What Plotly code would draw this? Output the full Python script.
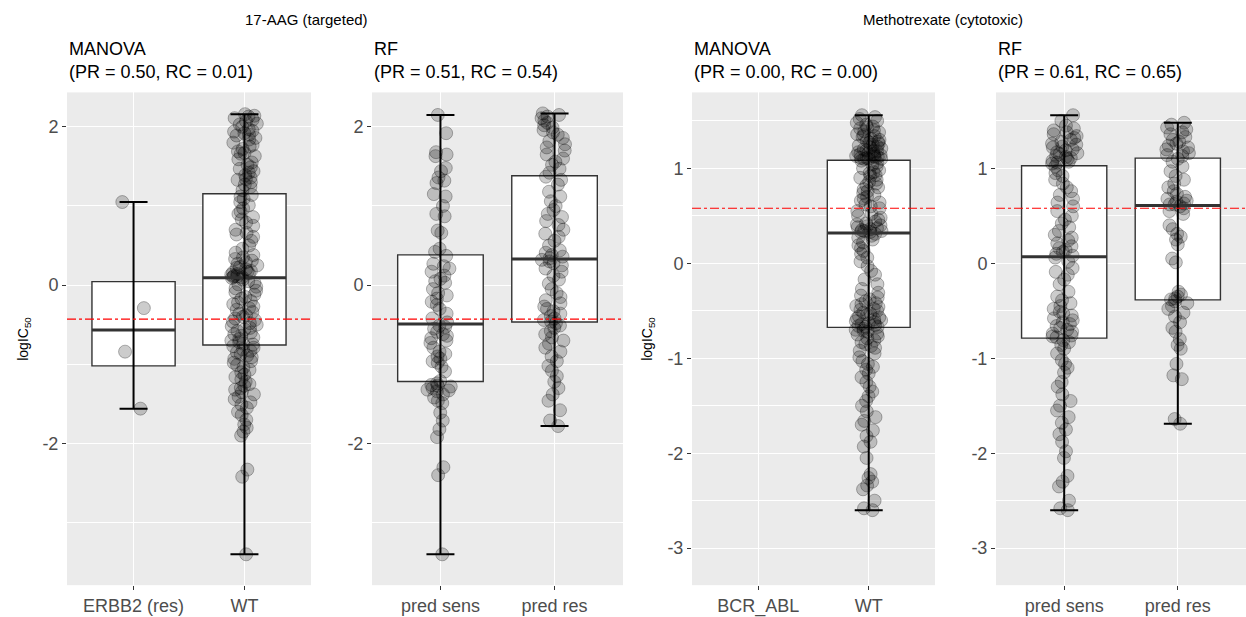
import numpy as np
import plotly.graph_objects as go

# ---------------- data ----------------
drug_titles = ["17-AAG (targeted)", "Methotrexate (cytotoxic)"]
panel_titles = ["MANOVA<br>(PR = 0.50, RC = 0.01)", "RF<br>(PR = 0.51, RC = 0.54)",
                "MANOVA<br>(PR = 0.00, RC = 0.00)", "RF<br>(PR = 0.61, RC = 0.65)"]
categories_aag_manova = ["ERBB2 (res)", "WT"]
categories_aag_rf = ["pred sens", "pred res"]
categories_mtx_manova = ["BCR_ABL", "WT"]
categories_mtx_rf = ["pred sens", "pred res"]
y_title = "logIC<sub>50</sub>"
ticks_aag = [-2, 0, 2]
ticks_mtx = [-3, -2, -1, 0, 1]

aag_manova_erbb2 = [1.05, -0.29, -0.84, -1.56]
aag_manova_wt = [
    2.16, 2.14, 2.13, 2.11, 2.09, 2.07, 2.04, 2.03, 2.00, 1.97, 1.95, 1.94, 1.92, 1.90, 1.89, 1.86,
    1.84, 1.80, 1.77, 1.75, 1.72, 1.69, 1.67, 1.66, 1.63, 1.59, 1.55, 1.52, 1.49, 1.47, 1.44, 1.42,
    1.39, 1.36, 1.34, 1.33, 1.30, 1.27, 1.24, 1.20,
    1.14, 1.12, 1.09, 1.05, 1.01, 0.97, 0.93, 0.90, 0.86, 0.83, 0.79, 0.75, 0.70, 0.66, 0.64, 0.61,
    0.56, 0.50, 0.46, 0.41, 0.38, 0.35, 0.33, 0.31, 0.29, 0.27, 0.25, 0.23, 0.22, 0.20, 0.18, 0.17,
    0.16, 0.15, 0.14, 0.13, 0.12, 0.11, 0.105, 0.10,
    0.09, 0.07, 0.05, 0.03, 0.01, -0.02, -0.04, -0.07, -0.09, -0.12, -0.15, -0.17, -0.20, -0.22,
    -0.24, -0.27, -0.29, -0.31, -0.34, -0.36, -0.38, -0.40, -0.42, -0.44, -0.46, -0.48, -0.50, -0.52,
    -0.54, -0.56, -0.58, -0.60, -0.62, -0.64, -0.66, -0.68, -0.70, -0.72, -0.74, -0.75,
    -0.77, -0.79, -0.81, -0.83, -0.85, -0.87, -0.89, -0.91, -0.93, -0.96, -0.98, -1.01, -1.04, -1.07,
    -1.10, -1.13, -1.16, -1.19, -1.22, -1.25, -1.27, -1.30, -1.32, -1.35, -1.38, -1.41, -1.44, -1.48,
    -1.51, -1.55, -1.60, -1.64, -1.70, -1.76, -1.80, -1.85, -1.90, -2.33, -2.42, -3.40]
aag_rf_sens = [
    2.15, 1.92, 1.68, 1.65, 1.63, 1.48, 1.44, 1.36, 1.32, 1.29, 1.15, 1.12, 1.00, 0.90, 0.87, 0.69,
    0.66, 0.46, 0.42,
    0.37, 0.27, 0.24, 0.21, 0.17, 0.12, 0.08, 0.05, 0.03, -0.05, -0.10, -0.13, -0.17, -0.21, -0.25,
    -0.30, -0.36, -0.42, -0.47,
    -0.51, -0.53, -0.55, -0.59, -0.62, -0.64, -0.67, -0.70, -0.73, -0.79, -0.84, -0.87, -0.90, -0.93,
    -0.96, -0.98, -1.03, -1.09, -1.21,
    -1.24, -1.26, -1.27, -1.28, -1.30, -1.32, -1.33, -1.34, -1.38, -1.42, -1.46, -1.49, -1.61, -1.71,
    -1.82, -1.92, -2.30, -2.40, -3.40]
aag_rf_res = [
    2.17, 2.15, 2.13, 2.11, 2.08, 2.05, 2.02, 1.99, 1.96, 1.93, 1.90, 1.86, 1.82, 1.78, 1.74, 1.70,
    1.65, 1.60, 1.56, 1.52, 1.47, 1.42,
    1.37, 1.33, 1.27, 1.18, 1.12, 1.06, 1.00, 0.95, 0.90, 0.86, 0.81, 0.76, 0.70, 0.65, 0.61, 0.56,
    0.50, 0.44, 0.41, 0.38, 0.36, 0.34,
    0.32, 0.30, 0.28, 0.25, 0.21, 0.17, 0.12, 0.07, 0.02, -0.05, -0.10, -0.15, -0.19, -0.23, -0.27,
    -0.30, -0.33, -0.36, -0.39, -0.42, -0.44, -0.46,
    -0.48, -0.51, -0.54, -0.58, -0.62, -0.66, -0.70, -0.74, -0.79, -0.84, -0.90, -0.96, -1.02, -1.08,
    -1.15, -1.22, -1.30, -1.38, -1.46, -1.58, -1.71, -1.78]

mtx_manova_bcr_abl = []
mtx_manova_wt = [
    1.56, 1.54, 1.52, 1.50, 1.48, 1.46, 1.44, 1.43, 1.42, 1.40, 1.39, 1.38, 1.36, 1.35, 1.34, 1.33,
    1.31, 1.30, 1.29, 1.28, 1.27, 1.26, 1.25, 1.24, 1.23, 1.22, 1.21, 1.20, 1.19, 1.18, 1.18, 1.17,
    1.16, 1.15, 1.15, 1.14, 1.13, 1.13, 1.12, 1.12, 1.11, 1.11, 1.10, 1.10, 1.10,
    1.08, 1.06, 1.04, 1.02, 1.00, 0.98, 0.96, 0.95, 0.93, 0.92, 0.90, 0.88, 0.86, 0.84, 0.82, 0.80,
    0.78, 0.76, 0.74, 0.72, 0.70, 0.68, 0.66, 0.64, 0.62, 0.60, 0.58, 0.55, 0.52, 0.50, 0.48, 0.46,
    0.44, 0.42, 0.41, 0.40, 0.39, 0.38, 0.37, 0.36, 0.35, 0.34, 0.34, 0.33, 0.33,
    0.31, 0.29, 0.27, 0.25, 0.22, 0.19, 0.16, 0.13, 0.10, 0.06, 0.02, -0.03, -0.08, -0.12, -0.17,
    -0.22, -0.27, -0.31, -0.34, -0.36, -0.38, -0.40, -0.42, -0.43, -0.45, -0.46, -0.48, -0.49, -0.50,
    -0.52, -0.53, -0.54, -0.56, -0.57, -0.58, -0.59, -0.60, -0.61, -0.62, -0.63, -0.64, -0.65, -0.66,
    -0.67, -0.67,
    -0.69, -0.70, -0.71, -0.72, -0.74, -0.75, -0.77, -0.79, -0.81, -0.83, -0.85, -0.87, -0.89, -0.92,
    -0.95, -0.99, -1.03, -1.06, -1.09, -1.12, -1.16, -1.20, -1.25, -1.30, -1.35, -1.40, -1.45, -1.50,
    -1.56, -1.62, -1.66, -1.70, -1.76, -1.82, -1.88, -1.93, -2.05, -2.22, -2.26, -2.30, -2.34, -2.38,
    -2.50, -2.58, -2.60]
mtx_rf_sens = [
    1.56, 1.50, 1.45, 1.42, 1.40, 1.38, 1.36, 1.34, 1.32, 1.30, 1.28, 1.26, 1.25, 1.23, 1.22, 1.20,
    1.19, 1.17, 1.16, 1.15, 1.13, 1.12, 1.11, 1.10, 1.08, 1.07, 1.06, 1.05,
    1.02, 0.98, 0.95, 0.92, 0.88, 0.84, 0.80, 0.76, 0.72, 0.68, 0.64, 0.60, 0.55, 0.50, 0.46, 0.42,
    0.38, 0.34, 0.30, 0.27, 0.24, 0.21, 0.18, 0.16, 0.14, 0.12, 0.10, 0.08,
    0.06, 0.02, -0.05, -0.09, -0.12, -0.17, -0.22, -0.30, -0.35, -0.39, -0.42, -0.45, -0.48, -0.51,
    -0.53, -0.55, -0.58, -0.60, -0.62, -0.64, -0.66, -0.68, -0.70, -0.72, -0.74, -0.76, -0.77, -0.78,
    -0.81, -0.83, -0.86, -0.90, -0.95, -1.02, -1.06, -1.10, -1.15, -1.25, -1.30, -1.38, -1.45, -1.50,
    -1.55, -1.62, -1.68, -1.75, -1.80, -1.88, -1.98, -2.05, -2.24, -2.30, -2.35, -2.50, -2.58, -2.60]
mtx_rf_res = [
    1.48, 1.46, 1.43, 1.41, 1.38, 1.36, 1.33, 1.30, 1.28, 1.26, 1.24, 1.22, 1.20, 1.18, 1.16, 1.14, 1.13,
    1.10, 1.07, 1.02, 0.97, 0.92, 0.88, 0.84, 0.80, 0.76, 0.73, 0.70, 0.68, 0.66, 0.65, 0.63, 0.62, 0.62,
    0.60, 0.58, 0.55, 0.52, 0.40, 0.36, 0.31, 0.28, 0.25, 0.20, 0.05, 0.01, -0.30, -0.33, -0.35, -0.37, -0.38,
    -0.40, -0.42, -0.45, -0.48, -0.52, -0.56, -0.62, -0.68, -0.72, -0.80, -0.86, -0.90, -1.06, -1.18,
    -1.22, -1.64, -1.69]

threshold_aag = -0.43
threshold_mtx = 0.58

# ---------------- figure ----------------
W, H = 1246, 617
FONT = "Liberation Sans"
panels = [
    dict(cats=categories_aag_manova, groups=[aag_manova_erbb2, aag_manova_wt], thr=threshold_aag,
         dom=(67, 311), yr=(-3.79, 2.435), ticks=ticks_aag, minor=1),
    dict(cats=categories_aag_rf, groups=[aag_rf_sens, aag_rf_res], thr=threshold_aag,
         dom=(372, 623), yr=(-3.79, 2.435), ticks=ticks_aag, minor=1),
    dict(cats=categories_mtx_manova, groups=[mtx_manova_bcr_abl, mtx_manova_wt], thr=threshold_mtx,
         dom=(692, 935), yr=(-3.39, 1.80), ticks=ticks_mtx, minor=0.5),
    dict(cats=categories_mtx_rf, groups=[mtx_rf_sens, mtx_rf_res], thr=threshold_mtx,
         dom=(996, 1246), yr=(-3.39, 1.80), ticks=ticks_mtx, minor=0.5),
]
ydom = [(H - 589) / H, (H - 93) / H]
BOXW = 0.75

fig = go.Figure()
layout = dict(width=W, height=H, margin=dict(l=0, r=0, t=0, b=0), showlegend=False,
              plot_bgcolor="#EBEBEB", paper_bgcolor="white", boxmode="overlay",
              font=dict(family=FONT, color="black"), shapes=[], annotations=[])

for k, p in enumerate(panels):
    sfx = "" if k == 0 else str(k + 1)
    xa, ya = "x" + sfx, "y" + sfx
    for i, vals in enumerate(p["groups"]):
        pos = i + 1
        if len(vals) == 0:
            continue
        mn, q1, med, q3, mx = np.percentile(vals, [0, 25, 50, 75, 100])
        fig.add_trace(go.Box(x=[pos], q1=[q1], median=[med], q3=[q3], lowerfence=[q1],
                             upperfence=[q3], width=BOXW, fillcolor="white", boxpoints=False,
                             line=dict(color="#333333", width=1.4), xaxis=xa, yaxis=ya,
                             hoverinfo="skip"))
        fig.add_trace(go.Box(y=vals, x0=pos, width=BOXW, boxpoints="all", jitter=0.32, pointpos=0,
                             fillcolor="rgba(0,0,0,0)", line=dict(color="rgba(0,0,0,0)", width=0),
                             marker=dict(size=13, color="rgba(0,0,0,0.2)",
                                         line=dict(color="rgba(0,0,0,0.28)", width=1)),
                             xaxis=xa, yaxis=ya, hoverinfo="y"))
        fig.add_trace(go.Scatter(x=[pos - BOXW / 2, pos + BOXW / 2], y=[med, med], mode="lines",
                                 line=dict(color="#333333", width=3), xaxis=xa, yaxis=ya,
                                 hoverinfo="skip"))
        fig.add_trace(go.Scatter(x=[pos], y=[(mn + mx) / 2], mode="markers",
                                 marker=dict(size=1, color="rgba(0,0,0,0)"),
                                 error_y=dict(type="data", array=[(mx - mn) / 2], width=14,
                                              thickness=2, color="black"),
                                 xaxis=xa, yaxis=ya, hoverinfo="skip"))
    layout["xaxis" + sfx] = dict(domain=[p["dom"][0] / W, p["dom"][1] / W], anchor=ya,
                                 range=[0.4, 2.6], tickvals=[1, 2], ticktext=p["cats"],
                                 showgrid=True, gridcolor="white", gridwidth=1.2, zeroline=False,
                                 ticks="outside", ticklen=4, tickcolor="#333333", tickwidth=1,
                                 tickfont=dict(size=18, color="#4D4D4D"), fixedrange=True)
    layout["yaxis" + sfx] = dict(domain=ydom, anchor=xa, range=list(p["yr"]),
                                 tickvals=p["ticks"], ticktext=[str(v) for v in p["ticks"]],
                                 showgrid=True, gridcolor="white", gridwidth=1.2,
                                 zeroline=False, ticks="outside", ticklen=4, tickcolor="#333333",
                                 tickwidth=1, tickfont=dict(size=18, color="#4D4D4D"),
                                 minor=dict(dtick=p["minor"], tick0=0, showgrid=True,
                                            gridcolor="white", gridwidth=0.6, ticks=""),
                                 fixedrange=True)
    layout["shapes"].append(dict(type="line", xref=xa + " domain", yref=ya, x0=0, x1=1,
                                 y0=p["thr"], y1=p["thr"],
                                 line=dict(color="red", width=1.2, dash="dashdot")))
    layout["annotations"].append(dict(text=panel_titles[k], xref="paper", yref="paper",
                                      x=p["dom"][0] / W, y=1 - 61 / H, xanchor="left",
                                      yanchor="middle", align="left", showarrow=False,
                                      font=dict(size=18, color="black")))

for t, xc in zip(drug_titles, [306, 943]):
    layout["annotations"].append(dict(text=t, xref="paper", yref="paper", x=xc / W, y=1 - 20 / H,
                                      xanchor="center", yanchor="middle", showarrow=False,
                                      font=dict(size=15, color="black")))
for xc in [24, 648]:
    layout["annotations"].append(dict(text=y_title, xref="paper", yref="paper", x=xc / W,
                                      y=(ydom[0] + ydom[1]) / 2, xanchor="center",
                                      yanchor="middle", textangle=-90, showarrow=False,
                                      font=dict(size=14, color="black")))

fig.update_layout(**layout)
fig.write_html("out.html", config={"displayModeBar": False},
               post_script="document.body.style.margin='0px';document.body.style.overflow='hidden';")
